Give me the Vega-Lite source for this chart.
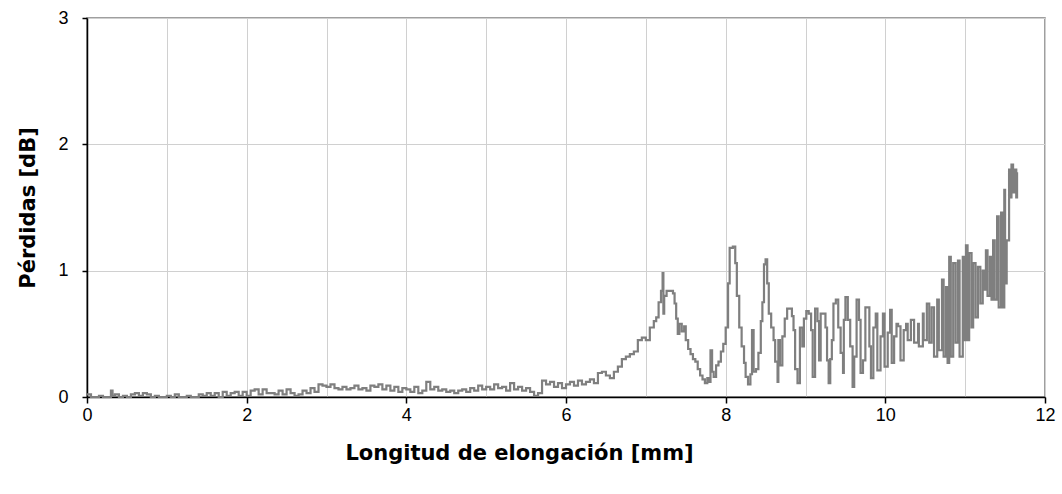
{
  "$schema": "https://vega.github.io/schema/vega-lite/v6.json",
  "width": 958,
  "height": 379,
  "autosize": {"type": "none"},
  "padding": {"left": 87, "top": 18, "right": 17, "bottom": 97},
  "background": "white",
  "config": {
    "view": {"stroke": "#808080", "strokeWidth": 1.5},
    "font": "Liberation Sans"
  },
  "data": {
    "values": [
      {"x":0.00,"y":0.02},{"x":0.03,"y":0.02},{"x":0.05,"y":0.0},{"x":0.10,"y":0.0},{"x":0.15,"y":0.01},{"x":0.20,"y":0.0},{"x":0.25,"y":0.0},{"x":0.30,"y":0.05},{"x":0.32,"y":0.01},{"x":0.35,"y":0.02},{"x":0.40,"y":0.0},{"x":0.45,"y":0.01},{"x":0.50,"y":0.0},{"x":0.55,"y":0.02},{"x":0.60,"y":0.03},{"x":0.65,"y":0.01},{"x":0.70,"y":0.03},{"x":0.75,"y":0.02},{"x":0.80,"y":0.0},{"x":0.85,"y":0.01},{"x":0.90,"y":0.0},{"x":0.95,"y":0.0},{"x":1.00,"y":0.01},{"x":1.05,"y":0.0},{"x":1.10,"y":0.02},{"x":1.15,"y":0.0},{"x":1.20,"y":0.0},{"x":1.25,"y":0.01},{"x":1.30,"y":0.0},{"x":1.35,"y":0.0},{"x":1.40,"y":0.02},{"x":1.45,"y":0.01},{"x":1.50,"y":0.03},{"x":1.55,"y":0.01},{"x":1.60,"y":0.03},{"x":1.65,"y":0.0},{"x":1.70,"y":0.04},{"x":1.75,"y":0.01},{"x":1.80,"y":0.03},{"x":1.85,"y":0.04},{"x":1.90,"y":0.01},{"x":1.95,"y":0.04},{"x":2.00,"y":0.01},{"x":2.05,"y":0.05},{"x":2.10,"y":0.06},{"x":2.15,"y":0.02},{"x":2.20,"y":0.06},{"x":2.25,"y":0.03},{"x":2.30,"y":0.03},{"x":2.35,"y":0.02},{"x":2.40,"y":0.05},{"x":2.45,"y":0.02},{"x":2.50,"y":0.06},{"x":2.55,"y":0.03},{"x":2.60,"y":0.01},{"x":2.65,"y":0.02},{"x":2.70,"y":0.05},{"x":2.75,"y":0.03},{"x":2.80,"y":0.07},{"x":2.85,"y":0.04},{"x":2.90,"y":0.10},{"x":2.95,"y":0.09},{"x":3.00,"y":0.08},{"x":3.05,"y":0.10},{"x":3.10,"y":0.07},{"x":3.15,"y":0.06},{"x":3.20,"y":0.08},{"x":3.25,"y":0.06},{"x":3.30,"y":0.07},{"x":3.35,"y":0.09},{"x":3.40,"y":0.06},{"x":3.45,"y":0.07},{"x":3.50,"y":0.05},{"x":3.55,"y":0.09},{"x":3.60,"y":0.08},{"x":3.65,"y":0.10},{"x":3.70,"y":0.06},{"x":3.75,"y":0.09},{"x":3.80,"y":0.05},{"x":3.85,"y":0.08},{"x":3.90,"y":0.04},{"x":3.95,"y":0.07},{"x":4.00,"y":0.06},{"x":4.05,"y":0.04},{"x":4.10,"y":0.08},{"x":4.15,"y":0.03},{"x":4.20,"y":0.05},{"x":4.25,"y":0.12},{"x":4.30,"y":0.06},{"x":4.35,"y":0.08},{"x":4.40,"y":0.05},{"x":4.45,"y":0.06},{"x":4.50,"y":0.04},{"x":4.55,"y":0.05},{"x":4.60,"y":0.03},{"x":4.65,"y":0.05},{"x":4.70,"y":0.06},{"x":4.75,"y":0.04},{"x":4.80,"y":0.07},{"x":4.85,"y":0.05},{"x":4.90,"y":0.09},{"x":4.95,"y":0.06},{"x":5.00,"y":0.08},{"x":5.05,"y":0.06},{"x":5.10,"y":0.10},{"x":5.15,"y":0.07},{"x":5.20,"y":0.08},{"x":5.25,"y":0.05},{"x":5.30,"y":0.11},{"x":5.35,"y":0.06},{"x":5.40,"y":0.08},{"x":5.45,"y":0.05},{"x":5.50,"y":0.07},{"x":5.55,"y":0.04},{"x":5.60,"y":0.01},{"x":5.65,"y":0.03},{"x":5.70,"y":0.13},{"x":5.75,"y":0.10},{"x":5.80,"y":0.12},{"x":5.85,"y":0.08},{"x":5.90,"y":0.11},{"x":5.95,"y":0.07},{"x":6.00,"y":0.10},{"x":6.05,"y":0.12},{"x":6.10,"y":0.09},{"x":6.15,"y":0.13},{"x":6.20,"y":0.10},{"x":6.25,"y":0.12},{"x":6.30,"y":0.14},{"x":6.35,"y":0.11},{"x":6.40,"y":0.19},{"x":6.45,"y":0.20},{"x":6.50,"y":0.17},{"x":6.55,"y":0.15},{"x":6.60,"y":0.20},{"x":6.65,"y":0.24},{"x":6.70,"y":0.30},{"x":6.75,"y":0.32},{"x":6.80,"y":0.34},{"x":6.85,"y":0.36},{"x":6.90,"y":0.45},{"x":6.95,"y":0.47},{"x":7.00,"y":0.45},{"x":7.05,"y":0.55},{"x":7.10,"y":0.60},{"x":7.13,"y":0.63},{"x":7.16,"y":0.75},{"x":7.19,"y":0.84},{"x":7.21,"y":0.98},{"x":7.22,"y":0.66},{"x":7.23,"y":0.80},{"x":7.26,"y":0.84},{"x":7.30,"y":0.84},{"x":7.34,"y":0.82},{"x":7.36,"y":0.74},{"x":7.38,"y":0.62},{"x":7.40,"y":0.50},{"x":7.42,"y":0.58},{"x":7.45,"y":0.52},{"x":7.48,"y":0.56},{"x":7.50,"y":0.45},{"x":7.53,"y":0.38},{"x":7.56,"y":0.34},{"x":7.59,"y":0.30},{"x":7.62,"y":0.28},{"x":7.65,"y":0.22},{"x":7.68,"y":0.17},{"x":7.71,"y":0.14},{"x":7.74,"y":0.11},{"x":7.77,"y":0.15},{"x":7.79,"y":0.12},{"x":7.81,"y":0.37},{"x":7.83,"y":0.20},{"x":7.85,"y":0.16},{"x":7.88,"y":0.25},{"x":7.91,"y":0.28},{"x":7.94,"y":0.36},{"x":7.97,"y":0.42},{"x":8.00,"y":0.55},{"x":8.03,"y":0.90},{"x":8.05,"y":1.18},{"x":8.09,"y":1.19},{"x":8.12,"y":1.06},{"x":8.14,"y":0.80},{"x":8.17,"y":0.55},{"x":8.20,"y":0.40},{"x":8.23,"y":0.27},{"x":8.25,"y":0.16},{"x":8.28,"y":0.10},{"x":8.31,"y":0.18},{"x":8.33,"y":0.53},{"x":8.35,"y":0.20},{"x":8.38,"y":0.22},{"x":8.41,"y":0.35},{"x":8.44,"y":0.60},{"x":8.46,"y":0.75},{"x":8.48,"y":1.05},{"x":8.50,"y":1.09},{"x":8.52,"y":0.90},{"x":8.54,"y":0.66},{"x":8.57,"y":0.55},{"x":8.60,"y":0.45},{"x":8.62,"y":0.28},{"x":8.65,"y":0.12},{"x":8.66,"y":0.45},{"x":8.68,"y":0.25},{"x":8.71,"y":0.48},{"x":8.74,"y":0.62},{"x":8.77,"y":0.70},{"x":8.80,"y":0.70},{"x":8.83,"y":0.64},{"x":8.85,"y":0.53},{"x":8.87,"y":0.22},{"x":8.90,"y":0.11},{"x":8.93,"y":0.55},{"x":8.96,"y":0.40},{"x":8.98,"y":0.62},{"x":9.01,"y":0.68},{"x":9.04,"y":0.66},{"x":9.07,"y":0.53},{"x":9.09,"y":0.16},{"x":9.12,"y":0.70},{"x":9.15,"y":0.60},{"x":9.17,"y":0.29},{"x":9.19,"y":0.66},{"x":9.23,"y":0.66},{"x":9.25,"y":0.55},{"x":9.27,"y":0.29},{"x":9.29,"y":0.11},{"x":9.31,"y":0.30},{"x":9.33,"y":0.45},{"x":9.35,"y":0.74},{"x":9.38,"y":0.77},{"x":9.41,"y":0.55},{"x":9.44,"y":0.35},{"x":9.47,"y":0.19},{"x":9.48,"y":0.61},{"x":9.50,"y":0.79},{"x":9.53,"y":0.61},{"x":9.56,"y":0.40},{"x":9.59,"y":0.08},{"x":9.61,"y":0.32},{"x":9.64,"y":0.77},{"x":9.67,"y":0.61},{"x":9.69,"y":0.19},{"x":9.72,"y":0.29},{"x":9.75,"y":0.71},{"x":9.78,"y":0.71},{"x":9.80,"y":0.40},{"x":9.82,"y":0.15},{"x":9.85,"y":0.55},{"x":9.88,"y":0.66},{"x":9.90,"y":0.21},{"x":9.94,"y":0.48},{"x":9.97,"y":0.66},{"x":9.99,"y":0.24},{"x":10.03,"y":0.51},{"x":10.06,"y":0.69},{"x":10.08,"y":0.27},{"x":10.11,"y":0.48},{"x":10.14,"y":0.58},{"x":10.16,"y":0.56},{"x":10.19,"y":0.29},{"x":10.23,"y":0.53},{"x":10.26,"y":0.58},{"x":10.28,"y":0.45},{"x":10.32,"y":0.61},{"x":10.36,"y":0.43},{"x":10.41,"y":0.58},{"x":10.42,"y":0.40},{"x":10.47,"y":0.66},{"x":10.48,"y":0.45},{"x":10.52,"y":0.74},{"x":10.55,"y":0.43},{"x":10.58,"y":0.71},{"x":10.61,"y":0.32},{"x":10.65,"y":0.77},{"x":10.67,"y":0.37},{"x":10.71,"y":0.93},{"x":10.73,"y":0.32},{"x":10.76,"y":0.87},{"x":10.78,"y":0.27},{"x":10.80,"y":1.11},{"x":10.82,"y":0.32},{"x":10.85,"y":1.06},{"x":10.88,"y":0.43},{"x":10.91,"y":1.08},{"x":10.93,"y":0.32},{"x":10.97,"y":1.11},{"x":10.99,"y":0.45},{"x":11.01,"y":1.20},{"x":11.03,"y":0.45},{"x":11.05,"y":1.14},{"x":11.08,"y":0.55},{"x":11.10,"y":1.06},{"x":11.13,"y":0.63},{"x":11.16,"y":1.03},{"x":11.19,"y":0.74},{"x":11.22,"y":1.00},{"x":11.24,"y":0.85},{"x":11.26,"y":1.16},{"x":11.28,"y":0.80},{"x":11.31,"y":1.11},{"x":11.33,"y":0.77},{"x":11.35,"y":1.24},{"x":11.37,"y":0.77},{"x":11.40,"y":1.43},{"x":11.42,"y":0.71},{"x":11.45,"y":1.46},{"x":11.47,"y":0.71},{"x":11.49,"y":1.64},{"x":11.50,"y":0.90},{"x":11.52,"y":1.24},{"x":11.55,"y":1.80},{"x":11.56,"y":1.58},{"x":11.58,"y":1.84},{"x":11.60,"y":1.62},{"x":11.62,"y":1.80},{"x":11.64,"y":1.58},{"x":11.65,"y":1.78}
    ]
  },
  "mark": {"type": "line", "color": "#7f7f7f", "strokeWidth": 2.2, "interpolate": "step-after"},
  "encoding": {
    "x": {
      "field": "x",
      "type": "quantitative",
      "scale": {"domain": [0, 12], "nice": false, "zero": false},
      "axis": {
        "title": "Longitud de elongación [mm]",
        "values": [0,0.5,1,1.5,2,2.5,3,3.5,4,4.5,5,5.5,6,6.5,7,7.5,8,8.5,9,9.5,10,10.5,11,11.5,12],
        "format": "d",
        "labelExpr": "datum.value % 2 === 0 ? datum.label : ''",
        "tickOpacity": {"condition": {"test": "datum.value % 2 !== 0", "value": 0}, "value": 1},
        "tickColor": "#000000",
        "tickSize": 6,
        "tickWidth": 1.5,
        "domainColor": "#000000",
        "domainWidth": 1.5,
        "grid": true,
        "gridColor": "#d0d0d0",
        "gridWidth": 1,
        "labelFont": "Liberation Sans",
        "labelFontSize": 18,
        "labelColor": "#000000",
        "labelPadding": 3,
        "labelFlush": false,
        "titleFont": "DejaVu Sans",
        "titleFontSize": 21,
        "titleFontWeight": "bold",
        "titleColor": "#000000",
        "titleX": 432,
        "titleAnchor": "middle",
        "titleAlign": "center",
        "titlePadding": 18
      }
    },
    "y": {
      "field": "y",
      "type": "quantitative",
      "scale": {"domain": [0, 3], "nice": false},
      "axis": {
        "title": "Pérdidas [dB]",
        "values": [0, 1, 2, 3],
        "tickColor": "#000000",
        "tickSize": 5,
        "tickWidth": 1.5,
        "domainColor": "#000000",
        "domainWidth": 1.5,
        "grid": true,
        "gridColor": "#d0d0d0",
        "gridWidth": 1,
        "labelFont": "Liberation Sans",
        "labelFontSize": 18,
        "labelColor": "#000000",
        "labelPadding": 14,
        "labelFlush": false,
        "titleFont": "DejaVu Sans",
        "titleFontSize": 21,
        "titleFontWeight": "bold",
        "titleColor": "#000000",
        "titlePadding": 19
      }
    }
  }
}
